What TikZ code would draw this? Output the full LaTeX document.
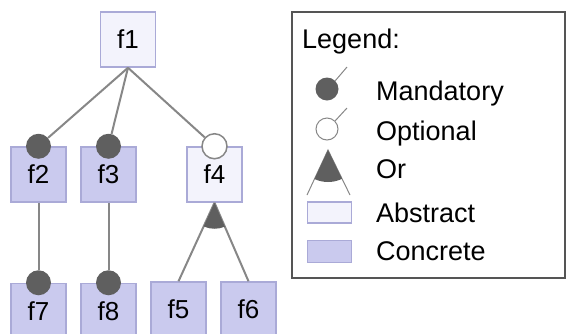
\documentclass[tikz,border=0pt]{standalone}
\usepackage{fontspec}
\setmainfont{Liberation Sans}
\usepackage{tikz}
\usetikzlibrary{positioning}

\definecolor{concretefill}{RGB}{202,202,238}
\definecolor{abstractfill}{RGB}{243,243,252}
\definecolor{boxline}{RGB}{170,170,215}
\definecolor{edgegray}{RGB}{135,135,135}
\definecolor{dotgray}{RGB}{95,95,95}
\definecolor{legendline}{RGB}{85,85,85}

\begin{document}
\begin{tikzpicture}[x=1pt,y=-1pt,
    feat/.style={draw=boxline,line width=1.5pt,minimum size=55pt,inner sep=0pt,font=\fontsize{26}{30}\selectfont},
    abstract/.style={feat,fill=abstractfill},
    concrete/.style={feat,fill=concretefill},
    mandatory/.style={circle,fill=dotgray,minimum size=25pt,inner sep=0pt},
    optional/.style={circle,draw=edgegray,fill=white,line width=1.5pt,minimum size=25pt,inner sep=0pt},
    edge/.style={draw=edgegray,line width=2pt},
    legtext/.style={anchor=base west,inner sep=0pt,font=\fontsize{27}{31}\selectfont}]
  \clip (0,0) rectangle (568,333);

  % feature boxes
  \node[abstract](f1) at (128,39.5) {f1};
  \node[concrete](f2) at (38.5,174.5) {f2};
  \node[concrete](f3) at (108.5,174.5) {f3};
  \node[abstract](f4) at (214.5,174.5) {f4};
  \node[concrete,below=80pt of f2](f7) {f7};
  \node[concrete,below=80pt of f3](f8) {f8};
  \node[concrete](f5) at (178.5,309.5) {f5};
  \node[concrete](f6) at (248.5,309.5) {f6};

  % mandatory / optional markers
  \node[mandatory](m2) at (f2.north) {};
  \node[mandatory](m3) at (f3.north) {};
  \node[optional](o4) at (f4.north) {};
  \node[mandatory](m7) at (f7.north) {};
  \node[mandatory](m8) at (f8.north) {};

  \draw[edge] (f1.south) -- (m2);
  \draw[edge] (f1.south) -- (m3);
  \draw[edge] (f1.south) -- (o4);
  \draw[edge] (f2.south) -- (m7);
  \draw[edge] (f3.south) -- (m8);
  \draw[edge] (f4.south) -- (f5.north);
  \draw[edge] (f4.south) -- (f6.north);

  % or group
  \begin{scope}
    \clip (f4.south) -- (f5.north) -- (f6.north) -- cycle;
    \fill[dotgray] (f4.south) circle (26);
  \end{scope}

  % legend
  \draw[legendline,line width=1.5pt] (292,12) rectangle (565,278);
  \node[legtext](legtitle) at (302,48) {Legend:};

  \node[mandatory,minimum size=23pt](lmand) at (327,89) {};
  \coordinate (lmandend) at (347,67);
  \draw[edgegray,line width=1pt] (lmand.45) -- (lmandend);
  \node[legtext](tmand) at (376,100) {Mandatory};

  \node[optional,line width=1pt,minimum size=22pt](lopt) at (327,129) {};
  \coordinate (loptend) at (347,108);
  \draw[edgegray,line width=1pt] (lopt.45) -- (loptend);
  \node[legtext](topt) at (376,140) {Optional};

  \coordinate (lor) at (328,150);
  \coordinate (lorleft) at (307,195);
  \coordinate (lorright) at (350,195);
  \draw[edgegray,line width=1pt] (lorleft) -- (lor) -- (lorright);
  \begin{scope}
    \clip (lor) -- (lorleft) -- (lorright) -- cycle;
    \fill[dotgray] (lor) circle (32);
  \end{scope}
  \node[legtext](tor) at (376,178) {Or};

  \node[draw=boxline,line width=1.5pt,fill=abstractfill,minimum width=44pt,minimum height=21pt,inner sep=0pt](labs) at (329.5,212.5) {};
  \node[legtext](tabs) at (376,222) {Abstract};

  \node[draw=boxline,line width=1.5pt,fill=concretefill,minimum width=44pt,minimum height=22pt,inner sep=0pt](lcon) at (329.5,251.5) {};
  \node[legtext](tcon) at (376,260) {Concrete};
\end{tikzpicture}
\end{document}
